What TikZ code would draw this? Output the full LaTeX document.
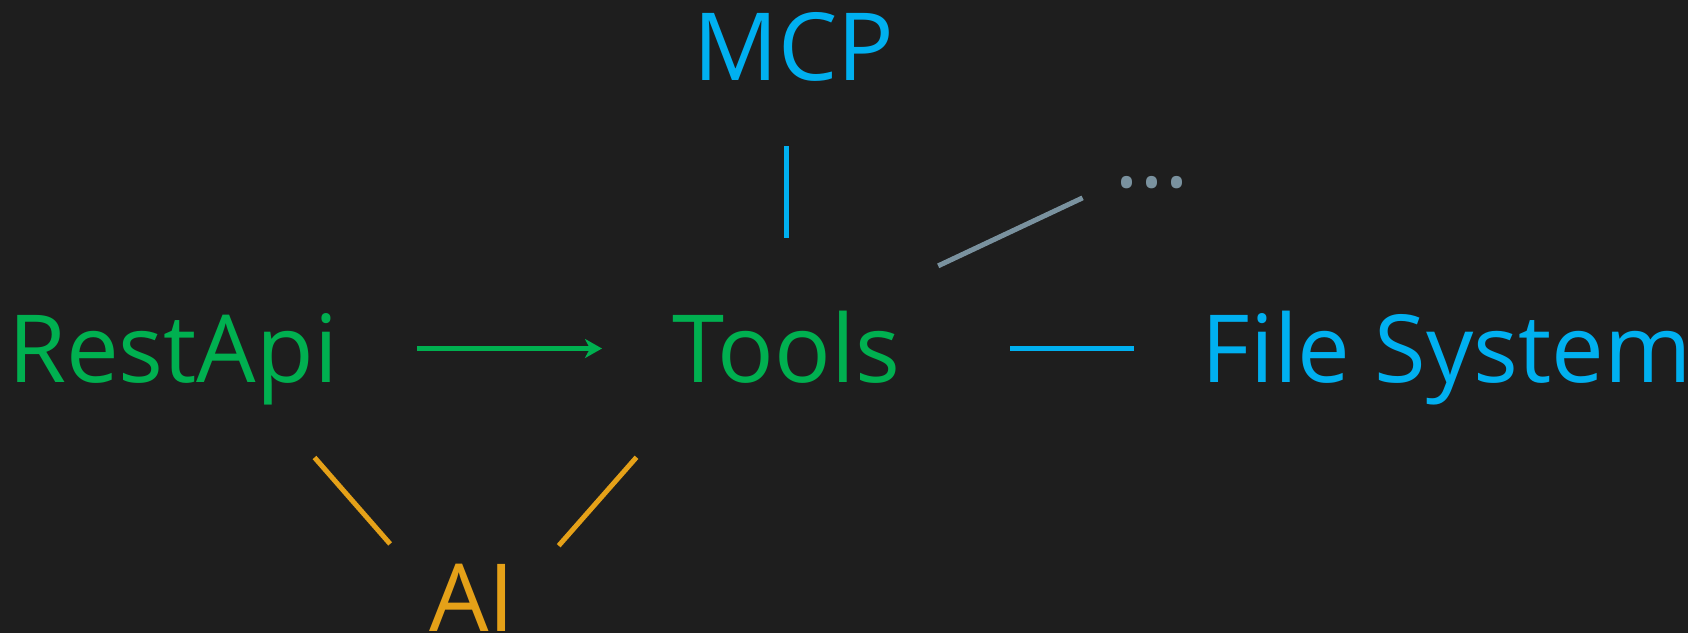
\documentclass[tikz,border=0pt]{standalone}
\usepackage{fontspec}
\setmainfont{Open Sans}
\usetikzlibrary{arrows.meta}
\definecolor{bgdark}{HTML}{1E1E1E}
\definecolor{mcpblue}{HTML}{00B0F0}
\definecolor{toolgreen}{HTML}{00B050}
\definecolor{aiorange}{HTML}{E5A118}
\definecolor{moregray}{HTML}{7A929F}
\tikzset{
    word/.style = {inner sep=0pt, anchor=base, text height=67pt, text depth=0pt,
                   font=\fontsize{94}{100}\selectfont},
    wordg/.style = {word, text=toolgreen},
    wordb/.style = {word, text=mcpblue},
    wordo/.style = {word, text=aiorange},
    wordm/.style = {word, text=moregray},
    edgeg/.style = {-{Stealth[length=17pt,width=19pt,inset=5pt]}, line width=5pt, toolgreen},
    edgeb/.style = {line width=5pt, mcpblue},
    edgeo/.style = {line width=5pt, aiorange},
    edgem/.style = {line width=5pt, moregray}
}
\begin{document}
\begin{tikzpicture}[x=1pt,y=-1pt]
\useasboundingbox[fill=bgdark] (0,0) rectangle (1688,633);
%
\node[wordg] at (173, 382) (restapi) {RestApi};
\node[wordg] at (786, 382) (tools) {Tools};
\node[wordb] at (794, 80) (mcp) {MCP};
\node[wordb] at (1447, 382) (filesys) {File System};
\node[wordm] at (1152, 187) (more) {...};
\node[wordo] at (472, 631) (ai) {AI};
%
\draw[edgeg, shorten <=79pt, shorten >=70pt] (restapi) -- (tools);
\draw[edgeb, shorten <=66pt, shorten >=77pt] (tools.north |- mcp.south) -- (tools.north);
\draw[edgeb, shorten <=110pt, shorten >=68pt] (tools) -- (filesys);
\draw[edgem, shorten <=115pt, shorten >=35pt] (tools.35.2) -- (more.218.6);
%
\draw[edgeo, shorten <=100pt, shorten >=59pt] (restapi.-24.5) -- (ai.168.7);
\draw[edgeo, shorten <=100pt, shorten >=66pt] (tools.202.1) -- (ai.3.9);

\end{tikzpicture}
\end{document}
